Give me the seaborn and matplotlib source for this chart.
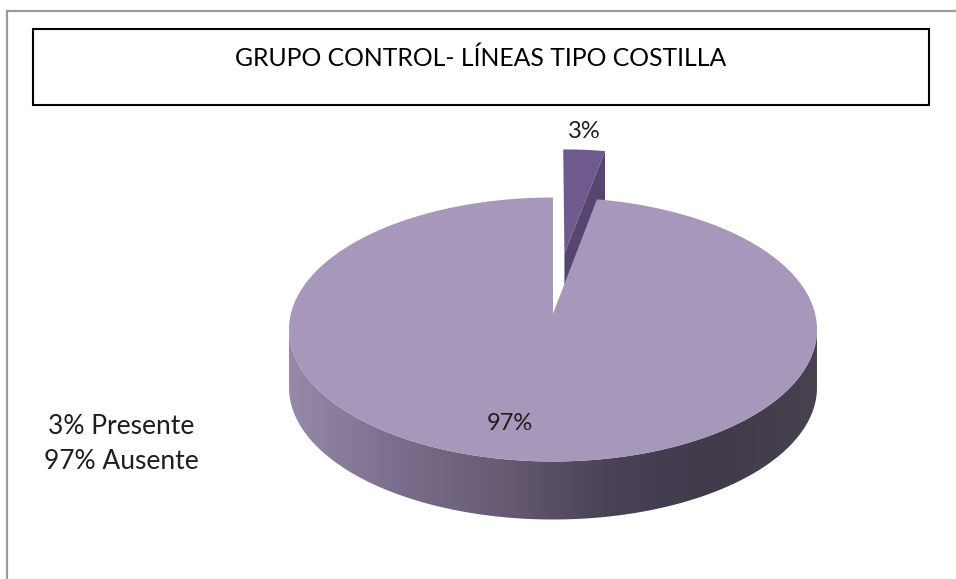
import numpy as np
import matplotlib
matplotlib.use("Agg")
import matplotlib.pyplot as plt
from matplotlib.patches import Polygon
from matplotlib.lines import Line2D
import seaborn as sns

# ---- data ---------------------------------------------------------------
title = "GRUPO CONTROL- LÍNEAS TIPO COSTILLA"
categories = ["Presente", "Ausente"]
values = [3, 97]

# ---- style --------------------------------------------------------------
sns.set_theme(style="white")
plt.rcParams["font.family"] = ["Lato", "DejaVu Sans"]

top_colors = ["#6E5A8C", "#A697BB"]
cut_colors = ["#56466F", "#7D6F92"]
side_cmap = sns.blend_palette(["#968AA8", "#7A6E8C", "#675C74", "#4A4255",
                               "#403A4A", "#48414F"], n_colors=256, as_cmap=True)
explode = [0.49, 0.0]

W, H = 956, 579
fig = plt.figure(figsize=(W / 100, H / 100), dpi=100)
ax = fig.add_axes([0, 0, 1, 1])
ax.set_xlim(0, W)
ax.set_ylim(H, 0)
ax.axis("off")

# pie geometry in pixel units
CX, CY, RX, RY = 553, 329.5, 264, 132
DEPTH = 58
K = 0.12  # perspective strength


def project(x, v):
    """Map a point of the unit pie disc (x right, v towards the back) to screen."""
    d = 1 + K * v
    X = x * np.sqrt(1 - K ** 2) / d
    V = (v + K) / d
    return CX + RX * X, CY - RY * V


total = float(sum(values))
fracs = np.array(values) / total
bounds = np.concatenate([[0.0], np.cumsum(fracs)]) * 2 * np.pi  # clockwise from 12 o'clock


def slice_geometry(i):
    t0, t1 = bounds[i], bounds[i + 1]
    mid = 0.5 * (t0 + t1)
    ox, ov = explode[i] * np.sin(mid), explode[i] * np.cos(mid)
    t = np.linspace(t0, t1, 400)
    rx, rv = np.sin(t) + ox, np.cos(t) + ov
    return t0, t1, ox, ov, t, rx, rv


def draw_slice(i, zbase):
    t0, t1, ox, ov, t, rx, rv = slice_geometry(i)
    cx_s, cy_s = project(ox, ov)
    px, py = project(rx, rv)

    # side wall: front-facing part of the rim
    front = rv <= -K
    if front.any():
        fx, fy = px[front], py[front]
        poly = np.vstack([np.column_stack([fx, fy]),
                          np.column_stack([fx[::-1], fy[::-1] + DEPTH])])
        wall = Polygon(poly, closed=True, facecolor="none", edgecolor="none")
        ax.add_patch(wall)
        grad = np.linspace(0, 1, 512)[None, :]
        im = ax.imshow(grad, cmap=side_cmap, aspect="auto",
                       extent=(CX - RX, CX + RX, CY + RY + DEPTH + 2, CY - 2),
                       zorder=zbase, interpolation="bilinear")
        im.set_clip_path(wall)

    # cut face at the trailing edge when it turns towards the viewer
    if explode[i] > 0:
        ex, ey = project(np.sin(t1) + ox, np.cos(t1) + ov)
        face = [(cx_s, cy_s), (ex, ey), (ex, ey + DEPTH), (cx_s, cy_s + DEPTH)]
        ax.add_patch(Polygon(face, closed=True, facecolor=cut_colors[i],
                             edgecolor="none", zorder=zbase))

    # top face
    top = np.vstack([[cx_s, cy_s], np.column_stack([px, py])])
    ax.add_patch(Polygon(top, closed=True, facecolor=top_colors[i],
                         edgecolor="none", zorder=zbase + 0.5))
    return cx_s, cy_s


# exploded (back) slice first, then the large slice in front
draw_slice(0, 2)
draw_slice(1, 4)

# ---- frame and title box ------------------------------------------------
ax.add_line(Line2D([7.5, 7.5], [11, H], color="#9A9A9A", lw=1.6, zorder=1))
ax.add_line(Line2D([7.5, W], [11, 11], color="#9A9A9A", lw=1.6, zorder=1))
ax.add_patch(Polygon([(33, 29), (929, 29), (929, 105), (33, 105)], closed=True,
                     facecolor="white", edgecolor="black", lw=1.5, zorder=6))
ax.text(481, 58, title, ha="center", va="center", fontsize=17.8, color="black", zorder=7)

# ---- value labels -------------------------------------------------------
pcts = [f"{v / total * 100:.0f}%" for v in values]
ax.text(584, 131, pcts[0], ha="center", va="center", fontsize=17, color="#1E1E1E", zorder=7)
ax.text(510, 424, pcts[1], ha="center", va="center", fontsize=17, color="#1E1E1E", zorder=7)

# ---- legend text --------------------------------------------------------
for j, (cat, p) in enumerate(zip(categories, pcts)):
    ax.text(121, 434 + 35 * j, f"{p} {cat}", ha="center", va="baseline",
            fontsize=19, color="#1E1E1E", zorder=7)

fig.savefig("out.png", dpi=100, facecolor="white")
